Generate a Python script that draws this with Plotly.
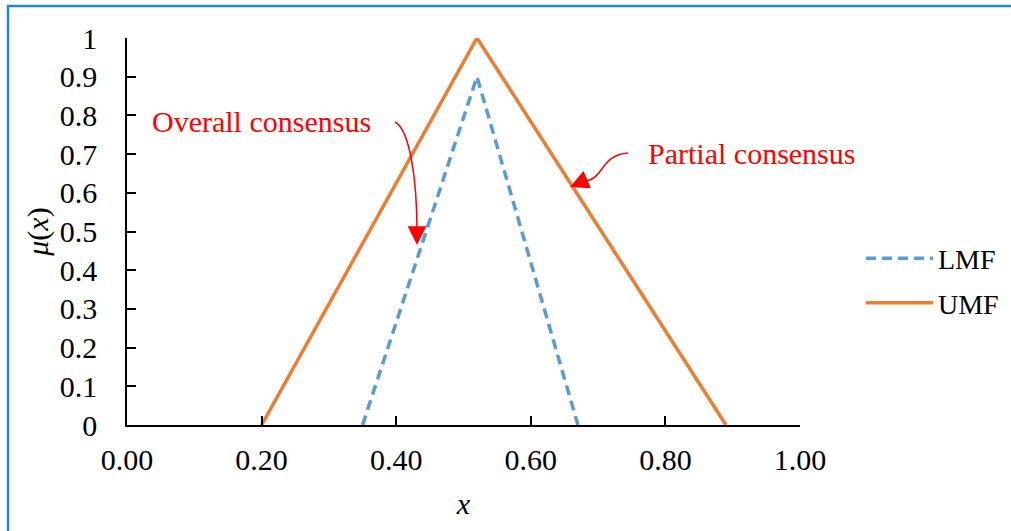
import plotly.graph_objects as go

# Data
lmf_x = [0.35, 0.52, 0.67]
lmf_y = [0.0, 0.9, 0.0]
umf_x = [0.20, 0.52, 0.89]
umf_y = [0.0, 1.0, 0.0]
x_ticks = [0.0, 0.2, 0.4, 0.6, 0.8, 1.0]
x_tick_labels = ["0.00", "0.20", "0.40", "0.60", "0.80", "1.00"]
y_ticks = [0, 0.1, 0.2, 0.3, 0.4, 0.5, 0.6, 0.7, 0.8, 0.9, 1]
y_tick_labels = ["0", "0.1", "0.2", "0.3", "0.4", "0.5", "0.6", "0.7", "0.8", "0.9", "1"]

FONT = "Liberation Serif, Times New Roman, serif"
FS = 30
BLUE = "#5B9BD5"
ORANGE = "#ED7D31"

fig = go.Figure()
fig.add_trace(go.Scatter(x=lmf_x, y=lmf_y, mode="lines", name="LMF", legendgroup="a",
                         line=dict(color=BLUE, width=3.5, dash="10px,6px"),
                         cliponaxis=False))
fig.add_trace(go.Scatter(x=umf_x, y=umf_y, mode="lines", name="UMF", legendgroup="b",
                         line=dict(color=ORANGE, width=3.5),
                         cliponaxis=False))

# Curved arrows
fig.add_shape(type="path", xref="x", yref="y",
              path="M 0.3982,0.7829 C 0.4205,0.7623 0.4309,0.6331 0.4309,0.4987",
              line=dict(color="red", width=1.5))
fig.add_annotation(x=0.4309, y=0.4651, xref="x", yref="y", ax=0, ay=-14,
                   text="", showarrow=True, arrowhead=2, arrowsize=2.5,
                   arrowwidth=1.5, arrowcolor="red")
fig.add_shape(type="path", xref="x", yref="y",
              path="M 0.7444,0.7028 C 0.7028,0.6977 0.7088,0.6331 0.6790,0.6305",
              line=dict(color="red", width=1.5))
fig.add_annotation(x=0.6582, y=0.6150, xref="x", yref="y", ax=14, ay=-6,
                   text="", showarrow=True, arrowhead=2, arrowsize=2.5,
                   arrowwidth=1.5, arrowcolor="red")

fig.add_annotation(x=0.2005, y=0.7855, xref="x", yref="y", text="Overall consensus",
                   showarrow=False, font=dict(family=FONT, size=FS, color="red"))
fig.add_annotation(x=0.9272, y=0.7028, xref="x", yref="y", text="Partial consensus",
                   showarrow=False, font=dict(family=FONT, size=FS, color="red"))

# Outer blue border (extends past right/bottom edges)
fig.add_shape(type="rect", xref="paper", yref="paper",
              x0=-0.1768, x1=2.0, y0=-1.0, y1=1.0827,
              line=dict(color="#1F8AC8", width=2.5), fillcolor="rgba(0,0,0,0)")

fig.update_layout(
    width=1011, height=531,
    margin=dict(l=127, r=211, t=38, b=106, autoexpand=False),
    paper_bgcolor="white", plot_bgcolor="white",
    font=dict(family=FONT, size=FS, color="black"),
    showlegend=True,
    legend=dict(x=1.0906, y=0.373, xanchor="left", yanchor="middle",
                font=dict(family=FONT, size=28, color="black"),
                itemwidth=67, traceorder="grouped", tracegroupgap=5,
                bgcolor="rgba(0,0,0,0)"),
    xaxis=dict(range=[0, 1], tickvals=x_ticks, ticktext=x_tick_labels,
               showgrid=False, zeroline=False, showline=True, linecolor="black",
               linewidth=1.5, ticks="inside", ticklen=9, tickwidth=1.5,
               tickcolor="black", ticklabelstandoff=7,
               title=dict(text="<i>x</i>", font=dict(family=FONT, size=FS), standoff=18)),
    yaxis=dict(range=[0, 1], tickvals=y_ticks, ticktext=y_tick_labels,
               showgrid=False, zeroline=False, showline=True, linecolor="black",
               linewidth=1.5, ticks="inside", ticklen=9, tickwidth=1.5,
               tickcolor="black", ticklabelstandoff=22,
               title=dict(text="<i>μ</i>(<i>x</i>)", font=dict(family=FONT, size=FS), standoff=2)),
)

fig.write_html("out.html")
